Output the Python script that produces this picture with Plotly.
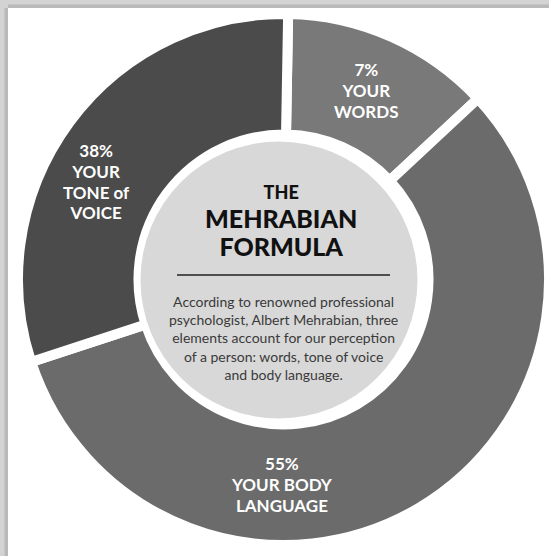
import plotly.graph_objects as go

# ---------------- data ----------------
categories = ["YOUR WORDS", "YOUR BODY LANGUAGE", "YOUR TONE of VOICE"]
stated_percent = [7, 55, 38]
# arc extent of each ring piece as drawn in the picture (share of the ring, %)
arc_share = [12.8, 56.9, 30.3]
label_lines = [["YOUR", "WORDS"], ["YOUR BODY", "LANGUAGE"], ["YOUR", "TONE of", "VOICE"]]
title_lines = ["THE", "MEHRABIAN", "FORMULA"]
description_lines = [
    "According to renowned professional",
    "psychologist, Albert Mehrabian, three",
    "elements account for our perception",
    "of a person: words, tone of voice",
    "and body language.",
]
slice_colors = ["#797979", "#6b6b6b", "#4b4b4b"]

# ---------------- layout helpers ----------------
W, H = 549, 556


def px(x):
    return x / W


def py(y):
    return 1 - y / H


cx, cy = 283.5, 279.5
r_path = 265.5
gap = 10
hole = (150 - gap / 2) / r_path

fig = go.Figure()
fig.add_trace(go.Pie(
    labels=categories,
    values=arc_share,
    sort=False,
    direction="clockwise",
    rotation=1,
    hole=hole,
    marker=dict(colors=slice_colors, line=dict(color="white", width=gap)),
    textinfo="none",
    hoverinfo="skip",
    showlegend=False,
    domain=dict(x=[px(cx - r_path), min(1, px(cx + r_path))],
                y=[py(cy + r_path), py(cy - r_path)]),
))

shapes = []
# frame / shadow bands
shapes.append(dict(type="rect", xref="paper", yref="paper", x0=0, x1=1,
                   y0=py(8), y1=1, fillcolor="#d3d3d3", line_width=0, layer="above"))
shapes.append(dict(type="rect", xref="paper", yref="paper", x0=px(8), x1=1,
                   y0=py(8), y1=py(4.5), fillcolor="#b9b9b9", line_width=0, layer="above"))
shapes.append(dict(type="rect", xref="paper", yref="paper", x0=0, x1=px(8),
                   y0=0, y1=1, fillcolor="#d3d3d3", line_width=0, layer="above"))
shapes.append(dict(type="rect", xref="paper", yref="paper", x0=px(4.5), x1=px(8),
                   y0=0, y1=py(8), fillcolor="#b9b9b9", line_width=0, layer="above"))
# centre disc
dcx, dcy, dr = 279, 280, 138.5
shapes.append(dict(type="circle", xref="paper", yref="paper",
                   x0=px(dcx - dr), x1=px(dcx + dr), y0=py(dcy + dr), y1=py(dcy - dr),
                   fillcolor="#d8d8d8", line_width=0, layer="above"))
# divider line
shapes.append(dict(type="line", xref="paper", yref="paper",
                   x0=px(177), x1=px(390), y0=py(275), y1=py(275),
                   line=dict(color="#222222", width=1.6), layer="above"))

annotations = []
# segment labels: base font 16 gives ~20.8px line pitch, glyphs drawn at 17px
label_center = [(366, 90.5), (282, 484.5), (96, 181)]
for pct, lines, (ax, ay) in zip(stated_percent, label_lines, label_center):
    all_lines = [f"{pct}%"] + lines
    txt = "<br>".join(f"<span style='font-size:17px'>{t}</span>" for t in all_lines)
    annotations.append(dict(
        text=txt, x=px(ax), y=py(ay), xref="paper", yref="paper",
        xanchor="center", yanchor="middle", showarrow=False, align="center",
        font=dict(family="Lato", size=16, color="white", weight="bold"),
    ))

# title: base font 22 gives ~28.6px pitch
title_sizes = [18, 25, 25]
title_txt = "<br>".join(f"<span style='font-size:{s}px'>{t}</span>"
                        for t, s in zip(title_lines, title_sizes))
annotations.append(dict(
    text=title_txt, x=px(281), y=py(221), xref="paper", yref="paper",
    xanchor="center", yanchor="middle", showarrow=False, align="center",
    font=dict(family="Lato", size=22, color="#111111", weight=900),
))

annotations.append(dict(
    text="<br>".join(description_lines), x=px(283), y=py(337.5),
    xref="paper", yref="paper", xanchor="center", yanchor="middle",
    showarrow=False, align="center",
    font=dict(family="Lato", size=14, color="#3a3a3a"),
))

fig.update_layout(
    width=W, height=H,
    margin=dict(l=0, r=0, t=0, b=0),
    paper_bgcolor="white", plot_bgcolor="white",
    shapes=shapes, annotations=annotations,
)

fig.write_html(
    "out.html",
    config={"displayModeBar": False},
    post_script="document.body.style.margin='0px';document.body.style.overflow='hidden';",
)
